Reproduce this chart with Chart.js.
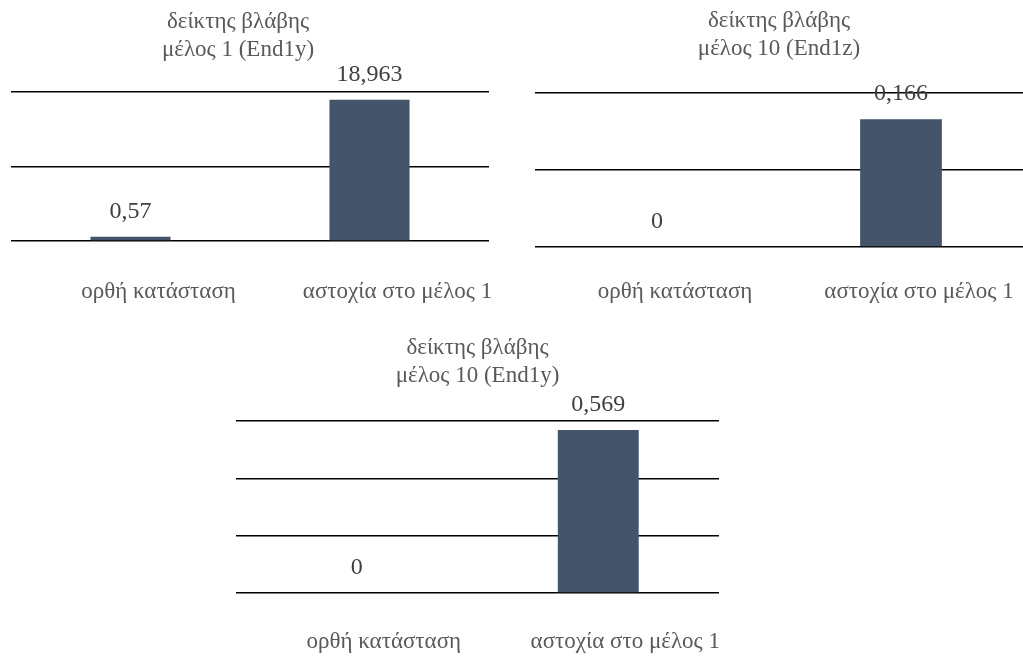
<!DOCTYPE html>
<html>
<head>
<meta charset="utf-8">
<script src="https://cdn.jsdelivr.net/npm/chart.js@4.4.1/dist/chart.umd.min.js"></script>
<style>
  html, body { margin: 0; padding: 0; background: #ffffff; }
  body { width: 1023px; height: 657px; position: relative; overflow: hidden; }
  canvas { position: absolute; display: block; }
</style>
</head>
<body>
<canvas id="member1End1y" width="510" height="320" style="left:0px;top:0px"></canvas>
<canvas id="member10End1z" width="513" height="320" style="left:510px;top:0px"></canvas>
<canvas id="member10End1y" width="560" height="327" style="left:220px;top:330px"></canvas>
<script>
// Categories shared by the three panels
const categories = ['ορθή κατάσταση', 'αστοχία στο μέλος 1'];

// Panel titles
const titleMember1End1y = ['δείκτης βλάβης', 'μέλος 1 (End1y)'];
const titleMember10End1z = ['δείκτης βλάβης', 'μέλος 10 (End1z)'];
const titleMember10End1y = ['δείκτης βλάβης', 'μέλος 10 (End1y)'];

// Damage index values
const valuesMember1End1y = [0.57, 18.963];
const valuesMember10End1z = [0, 0.166];
const valuesMember10End1y = [0, 0.569];

// Value-axis gridline positions
const ticksMember1End1y = [0, 10, 20];
const ticksMember10End1z = [0, 0.1, 0.2];
const ticksMember10End1y = [0, 0.2, 0.4, 0.6];

const SERIF = "'Liberation Serif', 'Times New Roman', serif";
const BAR_COLOR = '#44546A';

// Greek decimal comma
function formatValue(v) {
  return String(v).replace('.', ',');
}

// Draws the two-line panel title and the value label above each bar
const panelText = {
  id: 'panelText',
  afterDatasetsDraw(chart, args, opts) {
    const ctx = chart.ctx;
    const area = chart.chartArea;
    ctx.save();
    ctx.textAlign = 'center';
    ctx.textBaseline = 'middle';

    ctx.font = opts.titleSize + 'px ' + SERIF;
    ctx.fillStyle = '#595959';
    const cx = (area.left + area.right) / 2 + opts.titleShift;
    opts.lines.forEach((line, i) => {
      ctx.fillText(line, cx, opts.titleTop + i * opts.titleLineHeight);
    });

    ctx.font = opts.valueSize + 'px ' + SERIF;
    ctx.fillStyle = '#404040';
    const data = chart.data.datasets[0].data;
    chart.getDatasetMeta(0).data.forEach((bar, i) => {
      ctx.fillText(formatValue(data[i]), bar.x, bar.y - opts.valueGap);
    });
    ctx.restore();
  }
};

function makePanel(id, values, tickValues, title, layout) {
  const step = tickValues[1] - tickValues[0];
  return new Chart(document.getElementById(id), {
    type: 'bar',
    data: {
      labels: categories,
      datasets: [{
        data: values,
        backgroundColor: BAR_COLOR,
        borderWidth: 0,
        categoryPercentage: 1,
        barPercentage: 0.335
      }]
    },
    plugins: [panelText],
    options: {
      responsive: false,
      animation: false,
      events: [],
      layout: { padding: { left: layout.left, right: layout.right, top: layout.top, bottom: 0 } },
      plugins: {
        legend: { display: false },
        tooltip: { enabled: false },
        title: { display: false },
        panelText: {
          lines: title,
          titleShift: layout.titleShift,
          titleTop: layout.titleTop,
          titleLineHeight: 28,
          titleSize: 23,
          valueSize: 24,
          valueGap: 25
        }
      },
      scales: {
        x: {
          grid: { display: false, drawTicks: false },
          border: { display: false },
          ticks: {
            color: '#595959',
            font: { family: SERIF, size: 23, lineHeight: 1.2 },
            padding: layout.labelPad,
            labelOffset: layout.labelOffset,
            maxRotation: 0,
            autoSkip: false
          },
          afterFit(scale) {
            scale.height = layout.axisHeight;
            scale.paddingLeft = 0;
            scale.paddingRight = 0;
          }
        },
        y: {
          min: tickValues[0],
          max: tickValues[tickValues.length - 1],
          ticks: { display: false, stepSize: step },
          grid: { color: '#000000', lineWidth: 1.5, drawTicks: false },
          border: { display: false },
          afterFit(scale) {
            scale.width = 0;
            scale.paddingTop = 0;
            scale.paddingBottom = 0;
          }
        }
      }
    }
  });
}

makePanel('member1End1y', valuesMember1End1y, ticksMember1End1y, titleMember1End1y,
  { left: 11, right: 21, top: 92, axisHeight: 79, labelPad: 37, labelOffset: 28,
    titleShift: -12, titleTop: 22 });

makePanel('member10End1z', valuesMember10End1z, ticksMember10End1z, titleMember10End1z,
  { left: 25, right: 0, top: 93, axisHeight: 73, labelPad: 31, labelOffset: 18,
    titleShift: 0, titleTop: 21 });

makePanel('member10End1y', valuesMember10End1y, ticksMember10End1y, titleMember10End1y,
  { left: 16, right: 61, top: 91, axisHeight: 64, labelPad: 35, labelOffset: 27,
    titleShift: 0, titleTop: 18 });
</script>
</body>
</html>
